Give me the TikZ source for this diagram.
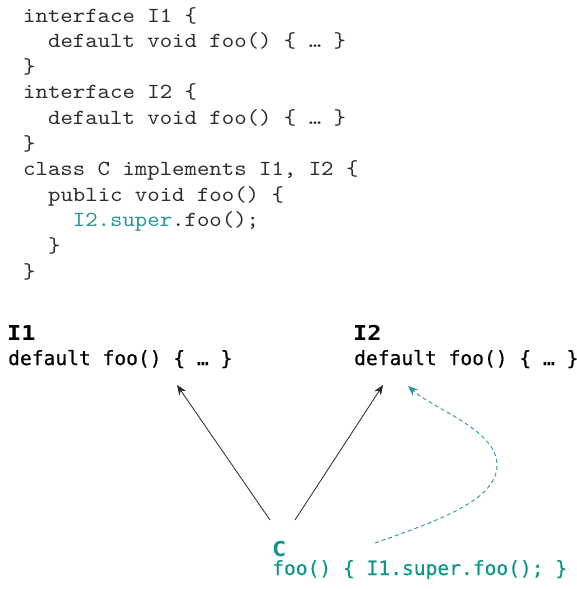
\documentclass[tikz,border=0pt]{standalone}
\usepackage{fontspec}
\newfontfamily\codefont{lmmono10-regular.otf}[FakeStretch=1.1]
\newfontfamily\dfont{DejaVu Sans Mono}[FakeBold=0.6]
\newfontfamily\dheadfont{DejaVu Sans Mono Bold}[FakeStretch=1.15]
\usetikzlibrary{arrows.meta}
\definecolor{codegray}{RGB}{45,45,45}
\definecolor{tealA}{RGB}{38,150,150}
\definecolor{tealB}{RGB}{16,150,135}
\begin{document}
\begin{tikzpicture}[x=1pt,y=-1pt,
  codeline/.style={anchor=base west, inner sep=0pt, font=\codefont\fontsize{21.5}{24}\selectfont, text=codegray},
  dlabel/.style={anchor=base west, inner sep=0pt, font=\dfont\fontsize{19.6}{24}\selectfont},
  dhead/.style={anchor=base west, inner sep=0pt, font=\dheadfont\fontsize{20.5}{24}\selectfont},
  inh/.style={-{Stealth[length=10pt,width=8pt]}, line width=0.8pt, draw=black!85},
  supcall/.style={-{Stealth[length=10pt,width=8pt]}, line width=0.9pt, draw=tealA, dash pattern=on 4pt off 3pt}]
\path[use as bounding box] (0,0) rectangle (577,589);
% code
\node[codeline] (c1)  at (23,22)    {interface I1 \{};
\node[codeline] (c2)  at (47.9,47.6)  {default void foo() \{ … \}};
\node[codeline] (c3)  at (23,73.2)  {\}};
\node[codeline] (c4)  at (23,98.8)  {interface I2 \{};
\node[codeline] (c5)  at (47.9,124.4) {default void foo() \{ … \}};
\node[codeline] (c6)  at (23,150)   {\}};
\node[codeline] (c7)  at (23,175.6) {class C implements I1, I2 \{};
\node[codeline] (c8)  at (47.9,201.2) {public void foo() \{};
\node[codeline] (c9)  at (72.7,226.8) {\textcolor{tealA}{I2.super}.foo();};
\node[codeline] (c10) at (47.9,252.4) {\}};
\node[codeline] (c11) at (23,278)   {\}};
% diagram labels
\node[dhead]  (i1h) at (7,340) {I1};
\node[dlabel] (i1b) at (8,365) {default foo() \{ … \}};
\node[dhead]  (i2h) at (353,340) {I2};
\node[dlabel] (i2b) at (354,365) {default foo() \{ … \}};
\node[dhead, text=tealB]  (ch) at (272,556) {C};
\node[dlabel, text=tealB] (cb) at (272,575) {foo() \{ I1.super.foo(); \}};
% connector ends
\coordinate (i1tip) at (177,385);
\coordinate (i2tip) at (383,385);
\coordinate (cL) at (270,520);
\coordinate (cR) at (295,520);
\coordinate (dS) at (375,543);
\coordinate (dM) at (497,465);
\coordinate (dE) at (408,386);
\draw[inh] (cL) -- (i1tip);
\draw[inh] (cR) -- (i2tip);
\draw[supcall] (dS) .. controls (440,520) and (497,500) .. (dM)
  .. controls (497,430) and (435,410) .. (dE);
\end{tikzpicture}
\end{document}
